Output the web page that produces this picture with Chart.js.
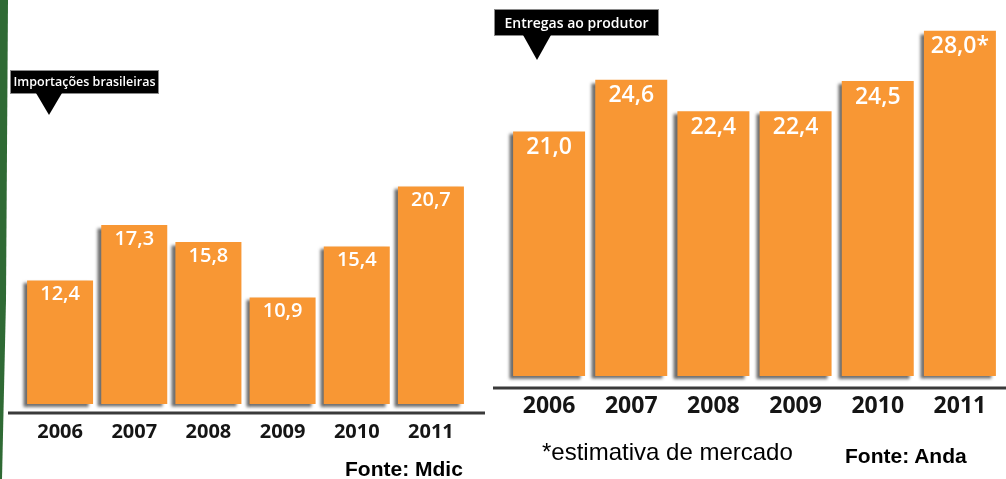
<!DOCTYPE html>
<html>
<head>
<meta charset="utf-8">
<script src="https://cdn.jsdelivr.net/npm/chart.js@4"></script>
<style>
    body { margin: 0; width: 1006px; height: 479px; background: #fff; position: relative; overflow: hidden; font-family: "Open Sans", sans-serif; }
    canvas { position: absolute; top: 0; }
    #leftChart { left: 0; }
    #rightChart { left: 490px; }
    .stripe { position: absolute; left: 0; top: 0; width: 8px; height: 479px; background: #2f6a34;
              clip-path: polygon(0 0, 8px 0, 6px 300px, 2px 479px, 0 479px); }
    .tag { position: absolute; background: #000; color: #fff; font-weight: 600; text-align: center;
           box-shadow: 0 0 0 1px #8a8a8a; white-space: nowrap; }
    .tip { position: absolute; width: 0; height: 0; border-style: solid; border-color: #000 transparent transparent transparent; }
    .note { position: absolute; font-family: "Liberation Sans", Arial, sans-serif; color: #000; white-space: nowrap; }
</style>
</head>
<body>
<div class="stripe"></div>
<canvas id="leftChart" width="490" height="479"></canvas>
<canvas id="rightChart" width="516" height="479"></canvas>

<div class="tag" style="left:11px;top:71px;width:147px;height:22px;line-height:22px;font-size:12.5px;">Importações brasileiras</div>
<div class="tip" style="left:36px;top:93px;border-width:22px 13px 0 13px;"></div>
<div class="tag" style="left:495px;top:10px;width:163px;height:25px;line-height:25px;font-size:14px;">Entregas ao produtor</div>
<div class="tip" style="left:523px;top:35px;border-width:25px 14px 0 14px;"></div>

<div class="note" style="left:345px;top:458px;font-size:21px;line-height:21px;font-weight:bold;">Fonte: Mdic</div>
<div class="note" style="left:542px;top:440px;font-size:24px;line-height:23px;">*estimativa de mercado</div>
<div class="note" style="left:845px;top:445px;font-size:21px;line-height:21px;font-weight:bold;">Fonte: Anda</div>

<script>
const years = ['2006', '2007', '2008', '2009', '2010', '2011'];
const importacoes = [12.4, 17.3, 15.8, 10.9, 15.4, 20.7];
const importacoesMarks = ['', '', '', '', '', ''];
const entregas = [21.0, 24.6, 22.4, 22.4, 24.5, 28.0];
const entregasMarks = ['', '', '', '', '', '*']; // 2011 = estimativa

const barColor = 'rgb(248, 151, 52)';

// soft gray shadow to the left/below each bar
const barShadow = {
    id: 'barShadow',
    beforeDatasetsDraw(chart) {
        const ctx = chart.ctx;
        ctx.save();
        ctx.shadowColor = 'rgba(70, 70, 70, 0.8)';
        ctx.shadowOffsetX = -4;
        ctx.shadowOffsetY = 3;
        ctx.shadowBlur = 3;
    },
    afterDatasetsDraw(chart) {
        chart.ctx.restore();
    }
};

// value printed inside the top of each bar
const barText = {
    id: 'barText',
    afterDatasetsDraw(chart, args, opts) {
        const ctx = chart.ctx;
        const ds = chart.data.datasets[0];
        const meta = chart.getDatasetMeta(0);
        ctx.save();
        ctx.fillStyle = '#fff';
        ctx.font = opts.font;
        ctx.textAlign = 'center';
        ctx.textBaseline = 'middle';
        meta.data.forEach((bar, i) => {
            const txt = ds.data[i].toFixed(1).replace('.', ',') + (opts.marks[i] || '');
            ctx.fillText(txt, bar.x, bar.y + opts.offset);
        });
        ctx.restore();
    }
};

// dark rule under the bars
const baseRule = {
    id: 'baseRule',
    afterDraw(chart, args, opts) {
        const ctx = chart.ctx;
        const y = chart.chartArea.bottom + opts.gap;
        ctx.save();
        ctx.strokeStyle = '#3a3a3a';
        ctx.lineWidth = 3;
        ctx.beginPath();
        ctx.moveTo(opts.from, y);
        ctx.lineTo(opts.to, y);
        ctx.stroke();
        ctx.restore();
    }
};

function makeChart(id, values, marks, cfg) {
    return new Chart(document.getElementById(id), {
        type: 'bar',
        data: {
            labels: years,
            datasets: [{
                data: values,
                base: cfg.min,
                backgroundColor: barColor,
                borderWidth: 0,
                barPercentage: cfg.barPct,
                categoryPercentage: 1,
                clip: false
            }]
        },
        options: {
            responsive: false,
            animation: false,
            layout: { padding: cfg.padding },
            scales: {
                x: {
                    grid: { display: false, drawTicks: false },
                    border: { display: false },
                    ticks: {
                        color: '#151515',
                        padding: cfg.tickPad,
                        font: { family: 'Open Sans', size: cfg.tickSize, weight: 'bold' }
                    },
                    afterFit: scale => { scale.height = cfg.axisHeight; }
                },
                y: { display: false, min: cfg.min, max: cfg.max }
            },
            plugins: {
                legend: { display: false },
                tooltip: { enabled: false },
                barText: { font: cfg.labelFont, offset: cfg.labelOffset, marks: marks },
                baseRule: { gap: cfg.ruleGap, from: cfg.ruleFrom, to: cfg.ruleTo }
            }
        },
        plugins: [barShadow, barText, baseRule]
    });
}

makeChart('leftChart', importacoes, importacoesMarks, {
    min: 1.5, max: 30,
    padding: { left: 23, right: 22, top: 81, bottom: 0 },
    axisHeight: 75,
    barPct: 0.89,
    tickPad: 16, tickSize: 20,
    labelFont: '600 20px "Open Sans"', labelOffset: 14,
    ruleGap: 9, ruleFrom: 8, ruleTo: 485
});

makeChart('rightChart', entregas, entregasMarks, {
    min: 4, max: 30,
    padding: { left: 18, right: 5, top: 2, bottom: 0 },
    axisHeight: 103,
    barPct: 0.876,
    tickPad: 17, tickSize: 23,
    labelFont: '600 23px "Open Sans"', labelOffset: 16,
    ruleGap: 12, ruleFrom: 3, ruleTo: 516
});
</script>
</body>
</html>
